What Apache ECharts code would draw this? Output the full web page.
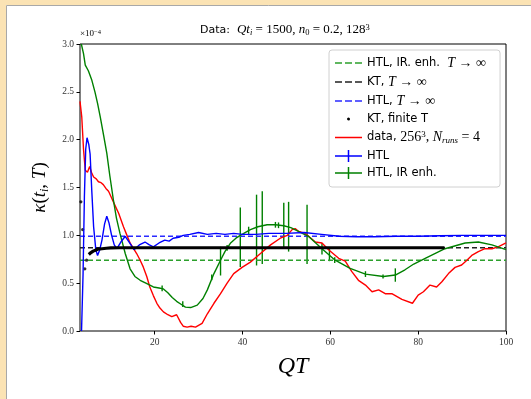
<!DOCTYPE html>
<html>
<head>
<meta charset="utf-8">
<script src="https://cdn.jsdelivr.net/npm/echarts@6/dist/echarts.min.js"></script>
<style>
html, body { margin: 0; padding: 0; background: #fff; }
#chart { width: 531px; height: 399px; }
</style>
</head>
<body>
<div id="chart"></div>
<script>
// axis ranges and ticks (values in units of 1e-4)
const xMin = 3;
const xMax = 100;
const xTicks = [20, 40, 60, 80, 100];

// asymptotic T -> infinity levels
const htlIrInf = 0.74;
const ktInf = 0.87;
const htlInf = 0.99;

// KT, finite T
const ktIsoQT = [3.2, 3.6, 4.1, 4.5];
const ktIsoVal = [1.35, 1.06, 0.65, 0.74];
const ktQT = [5.0, 5.5, 6.0, 6.5, 7.0, 8.0, 9.0, 10.0, 12.0, 20, 30, 40, 50, 60, 70, 80, 86];
const ktVal = [0.80, 0.82, 0.835, 0.845, 0.855, 0.86, 0.865, 0.868, 0.87, 0.87, 0.87, 0.87, 0.87, 0.87, 0.87, 0.87, 0.87];

// data, 256^3
const dataQT = [3.0, 3.4, 3.8, 4.2, 4.7, 5.2, 5.6, 6.1, 6.7, 7.2, 7.8, 8.3, 8.9, 9.5, 10.1, 10.6, 11.2, 11.8,
    12.9, 13.6, 14.4, 15.2, 15.9, 16.7, 17.4, 18.2, 18.9, 19.7, 20.5, 21.2, 22, 23, 23.9, 25, 25.9, 26.5,
    27.4, 28.3, 29.3, 30.8, 32, 33.5, 35, 36.5, 38, 39.9, 41.8, 44.1, 46.4, 48.6, 50.2, 51.3, 52, 52.8,
    54.3, 56.6, 58.1, 59.6, 61.9, 63.4, 64.9, 66.4, 68, 69.5, 71, 72.5, 74, 76.3, 78.7, 80, 81.2, 82.7,
    84.2, 85.4, 86.9, 88.4, 89.9, 91.1, 92.2, 93.7, 95.2, 96.8, 98.2, 100];
const dataVal = [2.40, 2.24, 1.9, 1.68, 1.66, 1.72, 1.66, 1.61, 1.59, 1.56, 1.55, 1.53, 1.49, 1.46, 1.40, 1.35, 1.29, 1.23,
    1.09, 1.01, 0.92, 0.86, 0.81, 0.74, 0.67, 0.57, 0.46, 0.37, 0.29, 0.24, 0.20, 0.17, 0.15, 0.17, 0.09, 0.05,
    0.04, 0.05, 0.04, 0.08, 0.18, 0.29, 0.39, 0.50, 0.60, 0.665, 0.72, 0.81, 0.90, 0.97, 1.00, 1.06, 1.07, 1.04,
    1.02, 0.93, 0.92, 0.85, 0.76, 0.73, 0.62, 0.53, 0.48, 0.41, 0.43, 0.39, 0.39, 0.33, 0.29, 0.376, 0.41, 0.48,
    0.46, 0.515, 0.60, 0.665, 0.69, 0.74, 0.79, 0.83, 0.86, 0.86, 0.88, 0.92];

// HTL
const htlQT = [3.35, 3.7, 4.0, 4.3, 4.6, 5.0, 5.3, 5.7, 6.1, 6.6, 7.0, 7.5, 8.0, 8.6, 9.1, 9.6, 10.2, 10.8, 11.4,
    12.3, 13.3, 14.3, 15.3, 16.5, 17.8, 18.8, 19.7, 21, 22.3, 23.3, 24.2, 25.5, 26.5, 28, 30, 32, 34, 36, 38,
    40, 43, 46, 50, 54, 58, 62, 66, 70, 75, 80, 85, 90, 95, 100];
const htlVal = [0.0, 0.6, 1.4, 1.9, 2.02, 1.95, 1.85, 1.45, 1.09, 0.85, 0.79, 0.85, 0.95, 1.12, 1.20, 1.13, 1.0, 0.9, 0.86,
    0.93, 0.99, 0.92, 0.85, 0.90, 0.93, 0.90, 0.88, 0.92, 0.95, 0.94, 0.97, 0.98, 1.00, 1.01, 1.03, 1.01, 1.02, 1.01, 1.02,
    1.01, 1.01, 1.02, 1.02, 1.03, 1.01, 0.99, 0.985, 0.985, 0.99, 0.99, 0.995, 1.0, 1.0, 1.0];

// HTL, IR enh.
const htlIrQT = [3.3, 3.8, 4.2, 4.9, 5.7, 6.4, 7.0, 7.6, 8.4, 9.1, 9.8, 10.6, 11.3, 12.1, 13.3, 14.4, 15.5, 16.7,
    18, 19.7, 21, 22, 23, 24, 25, 26, 27, 28.2, 29.7, 31, 32, 33.5, 35, 36, 37.3, 38.5, 39.5, 41.8, 43.5,
    45.6, 47.5, 49.4, 51, 52.4, 55, 58.1, 61.1, 64.5, 68, 72.1, 74.8, 77, 79, 81.6, 86.1, 90.7, 93.7, 96.8, 100];
const htlIrVal = [3.0, 2.9, 2.78, 2.72, 2.62, 2.5, 2.38, 2.24, 2.04, 1.86, 1.62, 1.37, 1.18, 1.02, 0.81, 0.65, 0.57, 0.53,
    0.5, 0.46, 0.45, 0.44, 0.40, 0.35, 0.31, 0.28, 0.25, 0.245, 0.27, 0.34, 0.43, 0.60, 0.74, 0.83, 0.92, 0.97, 1.0, 1.06, 1.09,
    1.11, 1.11, 1.10, 1.08, 1.05, 0.99, 0.86, 0.74, 0.655, 0.595, 0.57, 0.585, 0.64, 0.70, 0.76, 0.86, 0.92, 0.93, 0.90, 0.85];

// error bars on HTL, IR enh.: position, centre, half-width
const errQT = [21.7, 26.4, 33, 35, 36.5, 39.5, 41.4, 43.2, 44.5, 47.5, 48.2, 49.4, 50.5, 54.7, 58.1, 59.8, 61, 68, 72, 74.8];
const errVal = [0.445, 0.28, 0.56, 0.73, 0.87, 0.98, 1.05, 1.055, 1.08, 1.11, 1.105, 1.10, 1.09, 1.01, 0.86, 0.80, 0.74, 0.595, 0.57, 0.585];
const errSize = [0.03, 0.03, 0.03, 0.15, 0.03, 0.31, 0.04, 0.37, 0.38, 0.03, 0.03, 0.24, 0.26, 0.31, 0.06, 0.07, 0.03, 0.03, 0.02, 0.07];

const pairs = (xs, ys) => xs.map((x, i) => [x, ys[i]]);
const flat = v => [[xMin, v], [xMax, v]];

const SERIF = 'Liberation Serif';
const SANS = 'DejaVu Sans';
const GREEN = '#008000';
const BLUE = '#0000ff';

const rich = {
    s: { fontFamily: SANS, fontSize: 11.5, color: '#000', lineHeight: 15 },
    i: { fontFamily: SERIF, fontStyle: 'italic', fontSize: 14, color: '#000', lineHeight: 15 },
    m: { fontFamily: SERIF, fontSize: 14, color: '#000', lineHeight: 15 },
    sub: { fontFamily: SERIF, fontStyle: 'italic', fontSize: 9, color: '#000', lineHeight: 9, verticalAlign: 'bottom' },
    subm: { fontFamily: SERIF, fontSize: 9, color: '#000', lineHeight: 9, verticalAlign: 'bottom' },
    sup: { fontFamily: SERIF, fontSize: 9, color: '#000', lineHeight: 9, verticalAlign: 'top' },
};

const legendText = {
    htlIrInf: '{s|HTL, IR. enh.  }{i|T}{m| → ∞}',
    ktInf: '{s|KT, }{i|T}{m| → ∞}',
    htlInf: '{s|HTL, }{i|T}{m| → ∞}',
    ktFinite: '{s|KT, finite T}',
    data: '{s|data, }{m|256}{sup|3}{m|, }{i|N}{sub|runs}{m| = 4}',
    htl: '{s|HTL}',
    htlIr: '{s|HTL, IR enh.}',
};

// legend icon paths; the tiny corner marks keep the 27x12 box so shapes are not stretched
const corners = 'M0,0h0.01v0.01h-0.01Z M27,12h-0.01v-0.01h0.01Z ';
const dashIcon = 'path://' + corners + 'M0,5.25h7v1.5h-7Z M10,5.25h7v1.5h-7Z M20,5.25h7v1.5h-7Z';
const solidIcon = 'path://' + corners + 'M0,5.25H27V6.75H0Z';
const plusIcon = 'path://M0,5.25H27V6.75H0Z M12.75,0H14.25V12H12.75Z';
const dotIcon = 'path://' + corners + 'M13.5,4.5a1.5,1.5 0 1,0 0.01,0Z';

const chart = echarts.init(document.getElementById('chart'), null, { renderer: 'canvas' });

chart.setOption({
    animation: false,
    backgroundColor: '#fff',
    graphic: [
        { type: 'rect', left: 0, top: 0, shape: { width: 531, height: 5 }, style: { fill: '#fbe3b4' } },
        { type: 'rect', left: 0, top: 0, shape: { width: 6, height: 399 }, style: { fill: '#fbe3b4' } },
        { type: 'line', shape: { x1: 6.5, y1: 5.5, x2: 531, y2: 5.5 }, style: { stroke: '#a8a8a8', lineWidth: 1 } },
        { type: 'line', shape: { x1: 6.5, y1: 5.5, x2: 6.5, y2: 399 }, style: { stroke: '#a8a8a8', lineWidth: 1 } },
        {
            type: 'text', left: 80, top: 29,
            style: { text: '{m|×10}{sup|−4}', rich: {
                m: { fontFamily: SERIF, fontSize: 9, color: '#333', lineHeight: 10 },
                sup: { fontFamily: SERIF, fontSize: 6.5, color: '#333', lineHeight: 7, verticalAlign: 'top' },
            } },
        },
        {
            type: 'text', left: 200, top: 23,
            style: { text: '{s|Data:  }{i|Qt}{sub|i}{m| = 1500, }{i|n}{subm|0}{m| = 0.2, 128}{sup|3}', rich: {
                s: { fontFamily: SANS, fontSize: 11, color: '#000', lineHeight: 14 },
                i: { fontFamily: SERIF, fontStyle: 'italic', fontSize: 13, color: '#000', lineHeight: 14 },
                m: { fontFamily: SERIF, fontSize: 13, color: '#000', lineHeight: 14 },
                sub: { fontFamily: SERIF, fontStyle: 'italic', fontSize: 8.5, color: '#000', lineHeight: 9, verticalAlign: 'bottom' },
                subm: { fontFamily: SERIF, fontSize: 8.5, color: '#000', lineHeight: 9, verticalAlign: 'bottom' },
                sup: { fontFamily: SERIF, fontSize: 8.5, color: '#000', lineHeight: 9, verticalAlign: 'top' },
            } },
        },
    ],
    grid: {
        left: 80, right: 25, top: 44, bottom: 68,
        show: true, borderColor: '#000', borderWidth: 1, backgroundColor: 'transparent',
    },
    legend: {
        orient: 'vertical', left: 329, top: 50,
        padding: [6, 14, 8, 6], itemGap: 5,
        itemWidth: 27, itemHeight: 15,
        backgroundColor: 'rgba(255,255,255,0.85)', borderColor: '#d0d0d0', borderWidth: 1, borderRadius: 3,
        textStyle: { rich },
        formatter: name => legendText[name],
        data: [
            { name: 'htlIrInf', icon: dashIcon },
            { name: 'ktInf', icon: dashIcon },
            { name: 'htlInf', icon: dashIcon },
            { name: 'ktFinite', icon: dotIcon },
            { name: 'data', icon: solidIcon },
            { name: 'htl', icon: plusIcon },
            { name: 'htlIr', icon: plusIcon },
        ],
    },
    xAxis: {
        type: 'value', min: xMin, max: xMax,
        name: 'QT', nameLocation: 'middle', nameGap: 24,
        nameTextStyle: { fontFamily: SERIF, fontStyle: 'italic', fontSize: 24, color: '#000' },
        axisLine: { show: false },
        axisTick: { show: true, length: 3.5, lineStyle: { color: '#000' }, customValues: xTicks },
        axisLabel: { fontFamily: SERIF, fontSize: 9.5, color: '#333', margin: 6, customValues: xTicks },
        splitLine: { show: false },
    },
    yAxis: {
        type: 'value', min: 0, max: 3, interval: 0.5,
        name: '{i|κ}{m|(}{i|t}{sub|i}{m|, }{i|T}{m|)}', nameLocation: 'middle', nameGap: 18,
        nameTextStyle: { rich: {
            i: { fontFamily: SERIF, fontStyle: 'italic', fontSize: 19, color: '#000', lineHeight: 22 },
            m: { fontFamily: SERIF, fontSize: 19, color: '#000', lineHeight: 22 },
            sub: { fontFamily: SERIF, fontStyle: 'italic', fontSize: 12, color: '#000', lineHeight: 13, verticalAlign: 'bottom' },
        } },
        axisLine: { show: false },
        axisTick: { show: true, length: 3.5, lineStyle: { color: '#000' } },
        axisLabel: { fontFamily: SERIF, fontSize: 9.5, color: '#333', margin: 6, formatter: v => v.toFixed(1) },
        splitLine: { show: false },
    },
    series: [
        {
            name: 'htlIrInf', type: 'line', data: flat(htlIrInf), symbol: 'none',
            lineStyle: { color: '#2ca02c', width: 1.5, type: [5, 3] }, itemStyle: { color: '#2ca02c' },
        },
        {
            name: 'ktInf', type: 'line', data: flat(ktInf), symbol: 'none',
            lineStyle: { color: '#222', width: 1.5, type: [5, 3] }, itemStyle: { color: '#222' },
        },
        {
            name: 'htlInf', type: 'line', data: flat(htlInf), symbol: 'none',
            lineStyle: { color: '#2b2bff', width: 1.5, type: [5, 3] }, itemStyle: { color: '#2b2bff' },
        },
        {
            name: 'data', type: 'line', data: pairs(dataQT, dataVal), symbol: 'none',
            lineStyle: { color: '#ff0000', width: 1.4 }, itemStyle: { color: '#ff0000' },
        },
        {
            name: 'htlIr', type: 'line', data: pairs(htlIrQT, htlIrVal), symbol: 'none',
            lineStyle: { color: GREEN, width: 1.4 }, itemStyle: { color: GREEN },
        },
        {
            name: 'errG', type: 'custom', clip: true,
            data: errQT.map((q, i) => [q, errVal[i] - errSize[i], errVal[i] + errSize[i]]),
            encode: { x: 0, y: [1, 2] },
            renderItem: (params, api) => {
                const p1 = api.coord([api.value(0), api.value(1)]);
                const p2 = api.coord([api.value(0), api.value(2)]);
                return {
                    type: 'line',
                    shape: { x1: p1[0], y1: p1[1], x2: p2[0], y2: p2[1] },
                    style: { stroke: GREEN, lineWidth: 1.4 },
                };
            },
        },
        {
            name: 'htl', type: 'line', data: pairs(htlQT, htlVal), symbol: 'none',
            lineStyle: { color: BLUE, width: 1.4 }, itemStyle: { color: BLUE },
        },
        {
            name: 'ktFinite', type: 'line', data: pairs(ktQT, ktVal), symbol: 'none',
            lineStyle: { color: '#000', width: 3.2 }, itemStyle: { color: '#000' },
        },
        {
            name: 'ktFinite', type: 'scatter', data: pairs(ktIsoQT, ktIsoVal),
            symbolSize: 3.2, itemStyle: { color: '#000' },
        },
    ],
});
</script>
</body>
</html>
